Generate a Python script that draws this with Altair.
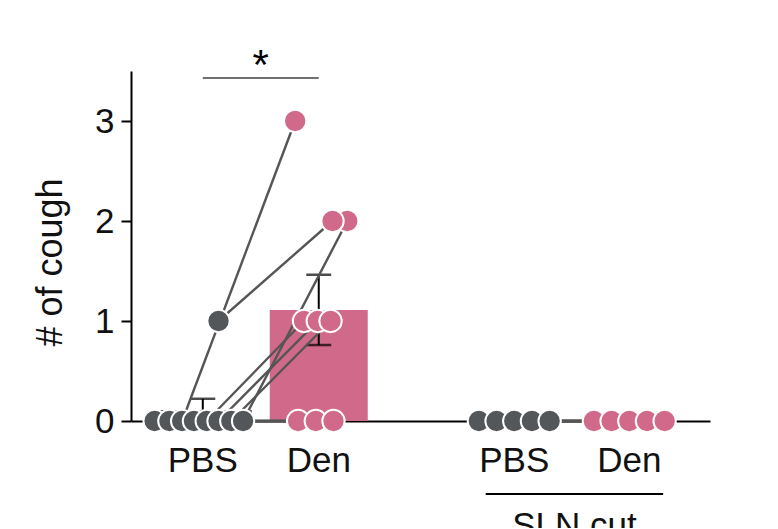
import altair as alt
import pandas as pd
import numpy as np

# ---------------- data ----------------
groups = ["PBS", "Den", "PBS", "Den"]
conditions = ["intact", "intact", "SLN cut", "SLN cut"]

# paired animals (same index = same animal)
intact_pbs = [0, 0, 0, 0, 0, 0, 0, 0, 1]
intact_den = [0, 0, 3, 0, 1, 1, 1, 2, 2]
cut_pbs = [0, 0, 0, 0, 0]
cut_den = [0, 0, 0, 0, 0]

y_ticks = [0, 1, 2, 3]
y_title = "# of cough"
sig_label = "*"
bracket_label = "SLN cut"

# ---------------- layout ----------------
UNIT = 118.0                      # px per x unit
group_pos = [1.0, 2.0, 3.686, 4.678]
x_domain = [0.424, 5.331]
# horizontal spread of dots (px) so overlapping points stay visible
intact_pbs_jit = [-49, -34, -21, -9, 4, 16, 29, 41, 16]
intact_den_jit = [-21, -3, -24, 15, -15, -1, 12, 29, 14]
cut_pbs_jit = [-36, -18, 0, 18, 36]
cut_den_jit = [-36, -18, 0, 18, 36]

GRAY = "#54575a"
PINK = "#d0698a"
colors = [GRAY, PINK, GRAY, PINK]

# ---------------- tables ----------------
sets = [
    (intact_pbs, intact_pbs_jit),
    (intact_den, intact_den_jit),
    (cut_pbs, cut_pbs_jit),
    (cut_den, cut_den_jit),
]
pts = []
bars = []
for gi, (vals, jit) in enumerate(sets):
    arr = np.array(vals, dtype=float)
    m = arr.mean()
    sem = arr.std(ddof=1) / np.sqrt(len(arr))
    bars.append(dict(g=gi, x=group_pos[gi], mean=m, lo=m - sem, hi=m + sem,
                     color=colors[gi], label=groups[gi]))
    for v, j in zip(vals, jit):
        pts.append(dict(g=gi, x=group_pos[gi] + j / UNIT, y=v, color=colors[gi]))
pts_df = pd.DataFrame(pts)
bars_df = pd.DataFrame(bars)

pairs = []
for (a, aj, b, bj, ga, gb) in [
    (intact_pbs, intact_pbs_jit, intact_den, intact_den_jit, 0, 1),
    (cut_pbs, cut_pbs_jit, cut_den, cut_den_jit, 2, 3),
]:
    for va, ja, vb, jb in zip(a, aj, b, bj):
        pairs.append(dict(x=group_pos[ga] + ja / UNIT, y=va,
                          x2=group_pos[gb] + jb / UNIT, y2=vb))
pairs_df = pd.DataFrame(pairs)

xs = alt.Scale(domain=x_domain, nice=False, zero=False)
ys = alt.Scale(domain=[0, 3.5], nice=False, zero=False)
FONT = "Liberation Sans"

X = alt.X("x:Q", scale=xs,
          axis=alt.Axis(values=[0.0], labels=False, ticks=False, grid=False, title=None,
                        domain=True, domainColor="black", domainWidth=2))
Y = alt.Y("y:Q", scale=ys,
          axis=alt.Axis(values=y_ticks, grid=False, title=y_title, format="d",
                        domainColor="black", domainWidth=2, tickColor="black",
                        tickWidth=2, tickSize=10, labelFontSize=35, labelFont=FONT,
                        labelColor="#111", labelPadding=7,
                        titleFontSize=36, titleFont=FONT, titleFontWeight="normal",
                        titleColor="#111", titleX=-70, titleY=191,
                        titleBaseline="alphabetic", titleAlign="center"))

bar_layer = alt.Chart(bars_df).mark_bar(size=98).encode(
    x=X, y=alt.Y("mean:Q", scale=ys), color=alt.Color("color:N", scale=None))

err_rule = alt.Chart(bars_df).mark_rule(color="black", strokeWidth=2).encode(
    x=alt.X("x:Q", scale=xs), y=alt.Y("lo:Q", scale=ys), y2="hi:Q")
cap_hi = alt.Chart(bars_df).mark_tick(color="black", orient="horizontal", size=25,
                                      thickness=2.5).encode(
    x=alt.X("x:Q", scale=xs), y=alt.Y("hi:Q", scale=ys))
cap_lo = alt.Chart(bars_df).mark_tick(color="black", orient="horizontal", size=25,
                                      thickness=2.5).encode(
    x=alt.X("x:Q", scale=xs), y=alt.Y("lo:Q", scale=ys))

pair_lines = alt.Chart(pairs_df).mark_rule(color="#555555", strokeWidth=2.4).encode(
    x=alt.X("x:Q", scale=xs), y=alt.Y("y:Q", scale=ys), x2="x2:Q", y2="y2:Q")

dots = alt.Chart(pts_df).mark_point(filled=True, size=500, stroke="white",
                                    strokeWidth=2, opacity=1).encode(
    x=alt.X("x:Q", scale=xs), y=Y,
    fill=alt.Fill("color:N", scale=None), order=alt.Order("g:Q"))

# x tick labels
xlab = alt.Chart(bars_df).mark_text(fontSize=35, font=FONT, color="#111",
                                    baseline="alphabetic", clip=False).encode(
    x=alt.X("x:Q", scale=xs), y=alt.datum(-0.51), text="label:N")

# significance bracket
sig_df = pd.DataFrame([dict(x=group_pos[0], x2=group_pos[1], y=3.43,
                            xm=(group_pos[0] + group_pos[1]) / 2, t=sig_label)])
sig_line = alt.Chart(sig_df).mark_rule(color="#707070", strokeWidth=2, clip=False).encode(
    x=alt.X("x:Q", scale=xs), x2="x2:Q", y=alt.Y("y:Q", scale=ys))
sig_text = alt.Chart(sig_df).mark_text(fontSize=42, font=FONT, color="black",
                                       baseline="alphabetic", clip=False).encode(
    x=alt.X("xm:Q", scale=xs), y=alt.datum(3.42), text="t:N")

# SLN cut bracket
br_df = pd.DataFrame([dict(x=3.44, x2=4.97, xm=(3.44 + 4.97) / 2, t=bracket_label)])
br_line = alt.Chart(br_df).mark_rule(color="black", strokeWidth=2, clip=False).encode(
    x=alt.X("x:Q", scale=xs), x2="x2:Q", y=alt.datum(-0.73))
br_text = alt.Chart(br_df).mark_text(fontSize=35, font=FONT, color="#111",
                                     baseline="alphabetic", clip=False).encode(
    x=alt.X("xm:Q", scale=xs), y=alt.datum(-1.16), text="t:N")

chart = alt.layer(
    bar_layer, err_rule, cap_hi, cap_lo, pair_lines, dots,
    xlab, sig_line, sig_text, br_line, br_text
).properties(
    width=579, height=350,
    padding={"left": 123, "top": 63, "right": 50, "bottom": 107},
    autosize=alt.AutoSizeParams(type="none"),
    background="white",
).configure_view(strokeWidth=0, stroke=None)

chart.save("out.html", embed_options={"renderer": "svg", "actions": False})
